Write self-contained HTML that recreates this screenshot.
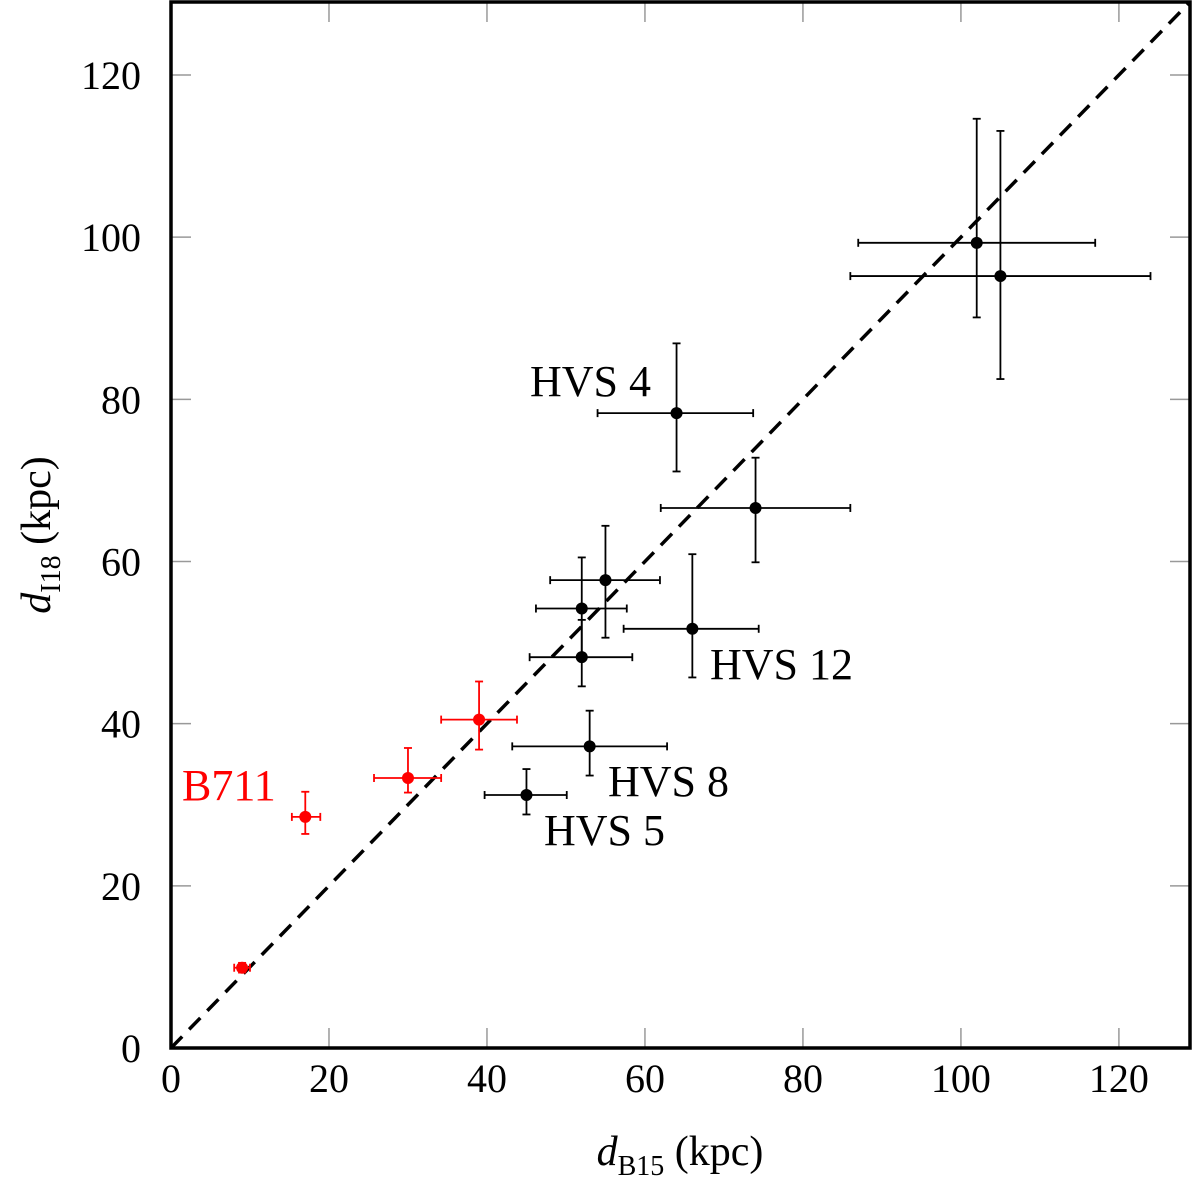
<!DOCTYPE html>
<html><head><meta charset="utf-8"><style>
html,body{margin:0;padding:0;background:#fff}
svg{display:block;font-family:"Liberation Serif",serif}
</style></head><body>
<svg id="chart" width="1200" height="1180">
<text x="680" y="1165" font-size="42" text-anchor="middle"><tspan font-style="italic">d</tspan><tspan font-size="28" dy="10">B15</tspan><tspan dy="-10"> (kpc)</tspan></text>
<text transform="translate(50,535) rotate(-90)" font-size="42" text-anchor="middle"><tspan font-style="italic">d</tspan><tspan font-size="28" dy="10">I18</tspan><tspan dy="-10"> (kpc)</tspan></text>
</svg>
<script>
const blackX   = [102, 105, 64, 74, 55, 52, 66, 52, 53, 45];
const blackY   = [99.3, 95.2, 78.3, 66.6, 57.7, 54.2, 51.7, 48.2, 37.2, 31.2];
const blackXlo = [87, 86, 54, 62, 48, 46.2, 57.3, 45.4, 43.2, 39.7];
const blackXhi = [117, 124, 73.7, 86, 61.9, 57.7, 74.4, 58.4, 62.8, 50.1];
const blackYlo = [90.1, 82.5, 71.1, 59.9, 50.6, 48.1, 45.7, 44.6, 33.6, 28.8];
const blackYhi = [114.6, 113.1, 86.9, 72.8, 64.4, 60.5, 60.9, 52.8, 41.6, 34.4];
const redX   = [9, 17, 30, 39];
const redY   = [9.9, 28.5, 33.3, 40.5];
const redXlo = [8, 15.3, 25.7, 34.2];
const redXhi = [10, 18.9, 34.2, 43.8];
const redYlo = [9.3, 26.4, 31.5, 36.8];
const redYhi = [10.5, 31.6, 37, 45.2];
const xTicks = [0, 20, 40, 60, 80, 100, 120];
const yTicks = [0, 20, 40, 60, 80, 100, 120];

const NS = "http://www.w3.org/2000/svg";
const svg = document.getElementById('chart');
const L = 171, R = 1190, T = 2, B = 1048, MAX = 129;
const sx = v => L + v * (R - L) / MAX;
const sy = v => B - v * (B - T) / MAX;
function el(tag, attrs, parent) {
  const e = document.createElementNS(NS, tag);
  for (const k in attrs) e.setAttribute(k, attrs[k]);
  (parent || svg).appendChild(e);
  return e;
}
const tg = el('g', {stroke: '#999', 'stroke-width': 1.5});


xTicks.forEach(v => {
  el('line', {x1: sx(v), x2: sx(v), y1: B, y2: B - 20}, tg);
  el('line', {x1: sx(v), x2: sx(v), y1: T, y2: T + 20}, tg);
  const t = el('text', {x: sx(v), y: B + 44, 'font-size': 40, 'text-anchor': 'middle', fill: '#000', stroke: 'none'});
  
  
  t.textContent = v;
});
yTicks.forEach(v => {
  el('line', {x1: L, x2: L + 20, y1: sy(v), y2: sy(v)}, tg);
  el('line', {x1: R, x2: R - 20, y1: sy(v), y2: sy(v)}, tg);
  const t = el('text', {x: L - 30, y: sy(v) + 14, 'font-size': 40, 'text-anchor': 'end', fill: '#000', stroke: 'none'});
  
  
  t.textContent = v;
});
const d = el('line', {x1: sx(0), y1: sy(0), x2: sx(MAX), y2: sy(MAX), stroke: '#000', 'stroke-width': 3.5, 'stroke-dasharray': '16,10'});


function series(X, Y, XL, XH, YL, YH, color, name) {
  const g = el('g', {stroke: color, fill: color, 'stroke-width': 1.8});
  
  
  X.forEach((x, i) => {
    const px = sx(x), py = sy(Y[i]);
    el('line', {x1: sx(XL[i]), x2: sx(XH[i]), y1: py, y2: py}, g);
    el('line', {x1: px, x2: px, y1: sy(YL[i]), y2: sy(YH[i])}, g);
    [XL[i], XH[i]].forEach(v => el('line', {x1: sx(v), x2: sx(v), y1: py - 4, y2: py + 4}, g));
    [YL[i], YH[i]].forEach(v => el('line', {x1: px - 4, x2: px + 4, y1: sy(v), y2: sy(v)}, g));
    const c = el('circle', {cx: px, cy: py, r: 6, stroke: 'none'}, g);
    
    
  });
}
series(blackX, blackY, blackXlo, blackXhi, blackYlo, blackYhi, '#000', 'hvs-series');
series(redX, redY, redXlo, redXhi, redYlo, redYhi, '#f00', 'red-series');
const f = el('rect', {x: L, y: T, width: R - L, height: B - T, fill: 'none', stroke: '#000', 'stroke-width': 3.5});


[['HVS 4', 530, 396, '#000'], ['HVS 12', 710, 679, '#000'], ['HVS 8', 608, 796, '#000'], ['HVS 5', 544, 845, '#000'], ['B711', 182, 800, '#f00']].forEach(a => {
  const t = el('text', {x: a[1], y: a[2], 'font-size': 44, fill: a[3]});
  
  
  t.textContent = a[0];
});
</script>
</body></html>
